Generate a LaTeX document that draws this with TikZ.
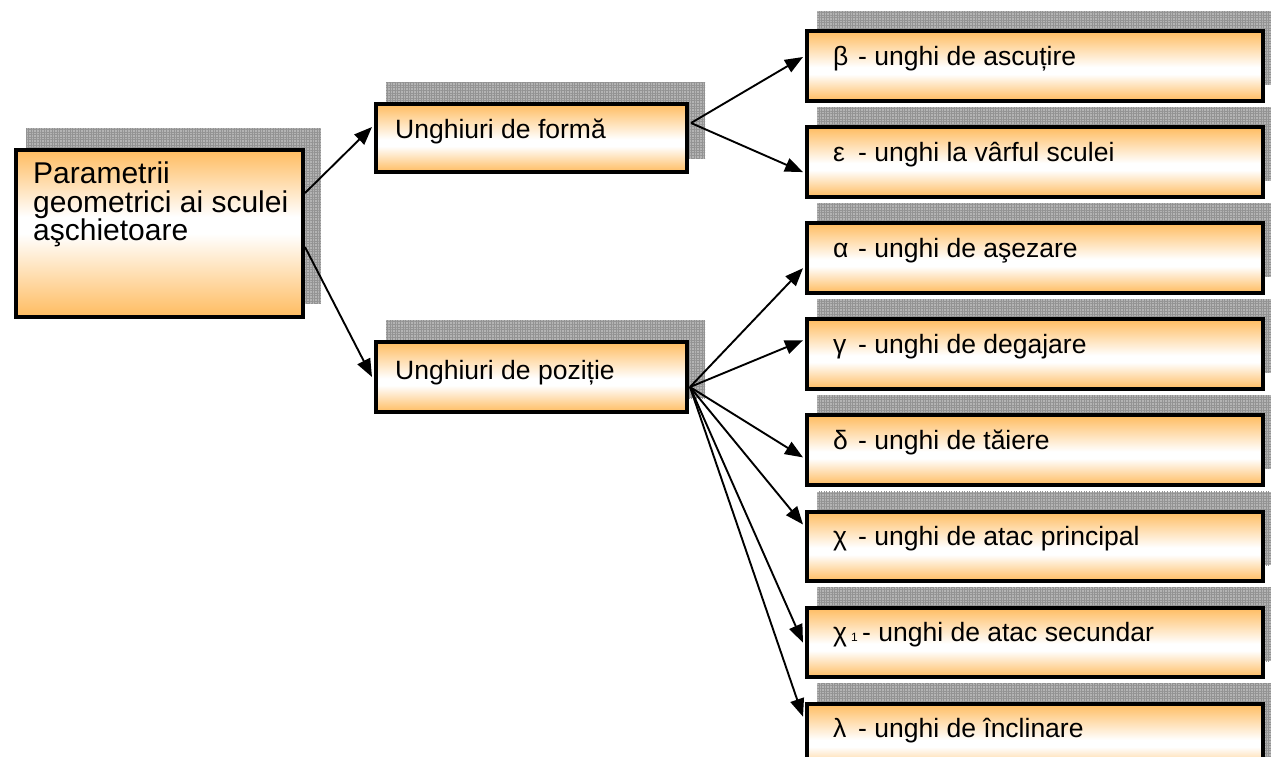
\documentclass[tikz,border=0pt]{standalone}
\usepackage{fontspec}
\setmainfont{Liberation Sans}
\usetikzlibrary{arrows.meta,calc,patterns.meta}
\definecolor{boxor}{RGB}{255,188,96}
\definecolor{shadgray}{RGB}{180,180,180}
\pgfdeclareverticalshading{boxshadeA}{100bp}{color(0bp)=(boxor); color(25bp)=(boxor); color(44bp)=(white); color(49bp)=(white); color(75bp)=(boxor); color(100bp)=(boxor)}
\pgfdeclareverticalshading{boxshadeB}{100bp}{color(0bp)=(boxor); color(25bp)=(boxor); color(50bp)=(white); color(55bp)=(white); color(75bp)=(boxor); color(100bp)=(boxor)}
\newcommand\txtA{\fontsize{26.5}{30}\selectfont}
\newcommand\txtR{\fontsize{30}{28.5}\selectfont}
\tikzset{
  box/.style={draw=black, line width=4pt, shading=boxshadeA, inner sep=0pt, anchor=north west},
  rootbox/.style={box, shading=boxshadeB},
  rbox/.style={box, minimum width=456pt, minimum height=69.5pt},
  shad/.style={fill=shadgray, postaction={pattern={Hatch[distance=2.6pt,line width=0.7pt]}, pattern color=gray!85}},
  conn/.style={line width=1.9pt, -{Triangle[length=18pt,width=14pt]}},
  lbl/.style={anchor=base west, inner sep=0pt, font=\txtA},
}
\begin{document}
\begin{tikzpicture}[x=1pt,y=-1pt]
\useasboundingbox (0,0) rectangle (1271,756);
\clip (0,0) rectangle (1271,756);
% shadows
\fill[shad] (26,128) rectangle (321,303);
\fill[shad] (386,82) rectangle (705,158);
\fill[shad] (386,320) rectangle (705,398);
\foreach \k in {0,...,7}{
  \pgfmathsetmacro\t{27+96.1*\k}
  \fill[shad] (817,\t-16) rectangle (1281,\t+73.5-16);
}
% boxes
\node[rootbox, minimum width=287pt, minimum height=167pt] (root) at (14,148) {};
\node[box, minimum width=311pt, minimum height=68pt] (forma) at (374,102) {};
\node[box, minimum width=311pt, minimum height=70pt] (pozitie) at (374,340) {};
\node[rbox] (beta) at (805,29) {};
\node[rbox] (eps) at (805,125.1) {};
\node[rbox] (alpha) at (805,221.2) {};
\node[rbox] (gamma) at (805,317.3) {};
\node[rbox] (delta) at (805,413.4) {};
\node[rbox] (chi) at (805,509.5) {};
\node[rbox] (chione) at (805,605.6) {};
\node[rbox] (lambda) at (805,701.7) {};
% texts
\node[anchor=north west, inner sep=0pt, align=left, font=\txtR] (roottxt) at (33,162) {Parametrii\\geometrici ai sculei\\aşchietoare};
\node[lbl] (formatxt) at (395,138) {Unghiuri de formă};
\node[lbl] (pozitietxt) at (395,379) {Unghiuri de poziție};
\foreach \n/\s/\r in {beta/β/unghi de ascuțire, eps/ε/unghi la vârful sculei, alpha/α/unghi de aşezare, gamma/γ/unghi de degajare, delta/δ/unghi de tăiere, chi/χ/unghi de atac principal, lambda/λ/unghi de înclinare}{
  \node[lbl] (\n sym) at ($(\n.north west)+(28,36)$) {\s};
  \node[lbl] (\n txt) at ($(\n.north west)+(53,36)$) {- \r};
}
\node[lbl] (chionesym) at ($(chione.north west)+(28,36)$) {χ};
\node[lbl, font=\fontsize{12}{12}\selectfont] (chionesub) at ($(chione.north west)+(46,36)$) {1};
\node[lbl] (chionetxt) at ($(chione.north west)+(57,36)$) {- unghi de atac secundar};
% connectors
\coordinate (r1) at ($(root.north east)+(0,45)$);
\coordinate (r2) at ($(root.north east)+(0,99)$);
\draw[conn] (r1) -- ($(forma.north west)+(-2,25)$);
\draw[conn] (r2) -- ($(pozitie.north west)+(-2,37)$);
\coordinate (f0) at ($(forma.north east)+(2,21)$);
\draw[conn] (f0) -- ($(beta.north west)+(-2,28)$);
\draw[conn] (f0) -- ($(eps.north west)+(-2,47)$);
\coordinate (p0) at ($(pozitie.north east)+(1,47)$);
\draw[conn] (p0) -- ($(alpha.north west)+(-2,47)$);
\draw[conn] (p0) -- ($(gamma.north west)+(-2,23)$);
\draw[conn] (p0) -- ($(delta.north west)+(-2,44)$);
\draw[conn] (p0) -- ($(chi.north west)+(-2,15)$);
\draw[conn] (p0) -- ($(chione.north west)+(-2,37)$);
\draw[conn] (p0) -- ($(lambda.north west)+(-2,15)$);
\end{tikzpicture}
\end{document}
